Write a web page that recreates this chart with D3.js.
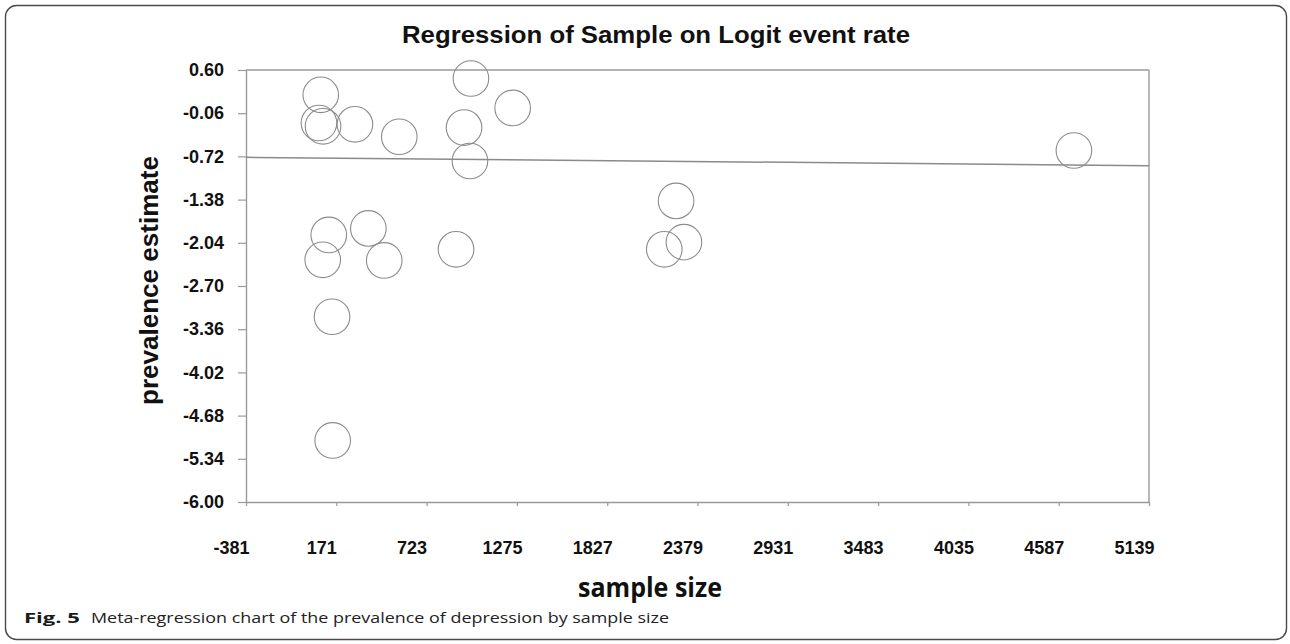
<!DOCTYPE html>
<html>
<head>
<meta charset="utf-8">
<script src="https://cdn.jsdelivr.net/npm/d3@7/dist/d3.min.js"></script>
<style>
  html, body { margin: 0; padding: 0; background: #fff; }
  svg { display: block; }
  .tick text { font-family: "Liberation Sans", Arial, sans-serif; font-weight: bold; font-size: 18px; fill: #111; }
</style>
</head>
<body>
<svg id="chart" width="1290" height="644"></svg>
<script>
// Study-level data: sample size vs logit event rate (prevalence estimate)
const sampleSize = [76, 65, 90, 285, 556, 994, 1249, 952, 988, 125, 367, 88, 464, 903, 145, 149, 2248, 2176, 2296, 4680];
const logitRate  = [0.22, -0.21, -0.26, -0.23, -0.42, 0.47, 0.02, -0.28, -0.79, -1.92, -1.82, -2.30, -2.31, -2.14, -3.17, -5.06, -1.40, -2.14, -2.03, -0.63];

// Fitted meta-regression line: logit = intercept + slope * sample size
const regIntercept = -0.743;
const regSlope = -0.0000232;

// Axis tick values
const xTicks = [-381, 171, 723, 1275, 1827, 2379, 2931, 3483, 4035, 4587, 5139];
const yTicks = [0.60, -0.06, -0.72, -1.38, -2.04, -2.70, -3.36, -4.02, -4.68, -5.34, -6.00];

const svg = d3.select("#chart");
const frameColor = "#9a9a9a";

// Outer rounded figure border
svg.append("rect")
  .attr("x", 5.5).attr("y", 5.5)
  .attr("width", 1281).attr("height", 634)
  .attr("rx", 11).attr("ry", 11)
  .attr("fill", "none").attr("stroke", "#4a4a4a").attr("stroke-width", 1.4);

const x = d3.scaleLinear().domain([xTicks[0], xTicks[xTicks.length - 1]]).range([246, 1149]);
const y = d3.scaleLinear().domain([yTicks[yTicks.length - 1], yTicks[0]]).range([502, 70]);

// Plot frame: top and right edges
svg.append("line")
  .attr("x1", x.range()[0]).attr("x2", x.range()[1])
  .attr("y1", y(yTicks[0])).attr("y2", y(yTicks[0]))
  .attr("stroke", frameColor).attr("stroke-width", 1.4);
svg.append("line")
  .attr("x1", x.range()[1]).attr("x2", x.range()[1])
  .attr("y1", y.range()[1]).attr("y2", y.range()[0])
  .attr("stroke", frameColor).attr("stroke-width", 1.4);

// Y axis
const yAxis = svg.append("g")
  .attr("transform", `translate(${x.range()[0]},0)`)
  .call(d3.axisLeft(y).tickValues(yTicks).tickSize(8).tickSizeOuter(0).tickPadding(14)
    .tickFormat(d => d.toFixed(2)));

// X axis
const xAxis = svg.append("g")
  .attr("transform", `translate(0,${y.range()[0]})`)
  .call(d3.axisBottom(x).tickValues(xTicks).tickSize(4).tickSizeOuter(0).tickPadding(35)
    .tickFormat(d => String(d)));
xAxis.selectAll(".tick text").attr("dx", -15);

[yAxis, xAxis].forEach(g => {
  g.select(".domain").attr("stroke", frameColor).attr("stroke-width", 1.4);
  g.selectAll(".tick line").attr("stroke", frameColor).attr("stroke-width", 1.2);
});

// Regression line across the sample-size range
const regLine = d3.line()
  .x(d => x(d))
  .y(d => y(regIntercept + regSlope * d));
svg.append("path")
  .datum(x.domain())
  .attr("d", regLine)
  .attr("fill", "none")
  .attr("stroke", "#8a8a8a")
  .attr("stroke-width", 1.5);

// Study markers
svg.append("g")
  .selectAll("circle")
  .data(sampleSize.map((n, i) => ({ n, v: logitRate[i] })))
  .join("circle")
  .attr("cx", d => x(d.n))
  .attr("cy", d => y(d.v))
  .attr("r", 17.8)
  .attr("fill", "none")
  .attr("stroke", "#8c8c8c")
  .attr("stroke-width", 1.1);

// Title
svg.append("text")
  .attr("x", 656).attr("y", 43)
  .attr("text-anchor", "middle")
  .attr("font-family", "Liberation Sans, Arial, sans-serif")
  .attr("font-weight", "bold").attr("font-size", 24)
  .attr("textLength", 508).attr("lengthAdjust", "spacingAndGlyphs")
  .attr("fill", "#111")
  .text("Regression of Sample on Logit event rate");

// Y-axis title
svg.append("text")
  .attr("transform", "translate(158,280.5) rotate(-90)")
  .attr("text-anchor", "middle")
  .attr("font-family", "Liberation Sans, Arial, sans-serif")
  .attr("font-weight", "bold").attr("font-size", 25)
  .attr("textLength", 249).attr("lengthAdjust", "spacingAndGlyphs")
  .attr("fill", "#111")
  .text("prevalence estimate");

// X-axis title
svg.append("text")
  .attr("x", 650).attr("y", 597)
  .attr("text-anchor", "middle")
  .attr("font-family", "Open Sans, sans-serif")
  .attr("font-weight", "bold").attr("font-size", 26)
  .attr("textLength", 144).attr("lengthAdjust", "spacingAndGlyphs")
  .attr("fill", "#111")
  .text("sample size");

// Figure caption
svg.append("text")
  .attr("x", 24).attr("y", 623)
  .attr("font-family", "Open Sans, sans-serif")
  .attr("font-weight", "bold").attr("font-size", 15)
  .attr("textLength", 56).attr("lengthAdjust", "spacingAndGlyphs")
  .attr("fill", "#1a1a1a")
  .text("Fig. 5");
svg.append("text")
  .attr("x", 91).attr("y", 623)
  .attr("font-family", "Open Sans, sans-serif")
  .attr("font-size", 15)
  .attr("textLength", 578).attr("lengthAdjust", "spacingAndGlyphs")
  .attr("fill", "#222")
  .text("Meta-regression chart of the prevalence of depression by sample size");
</script>
</body>
</html>
